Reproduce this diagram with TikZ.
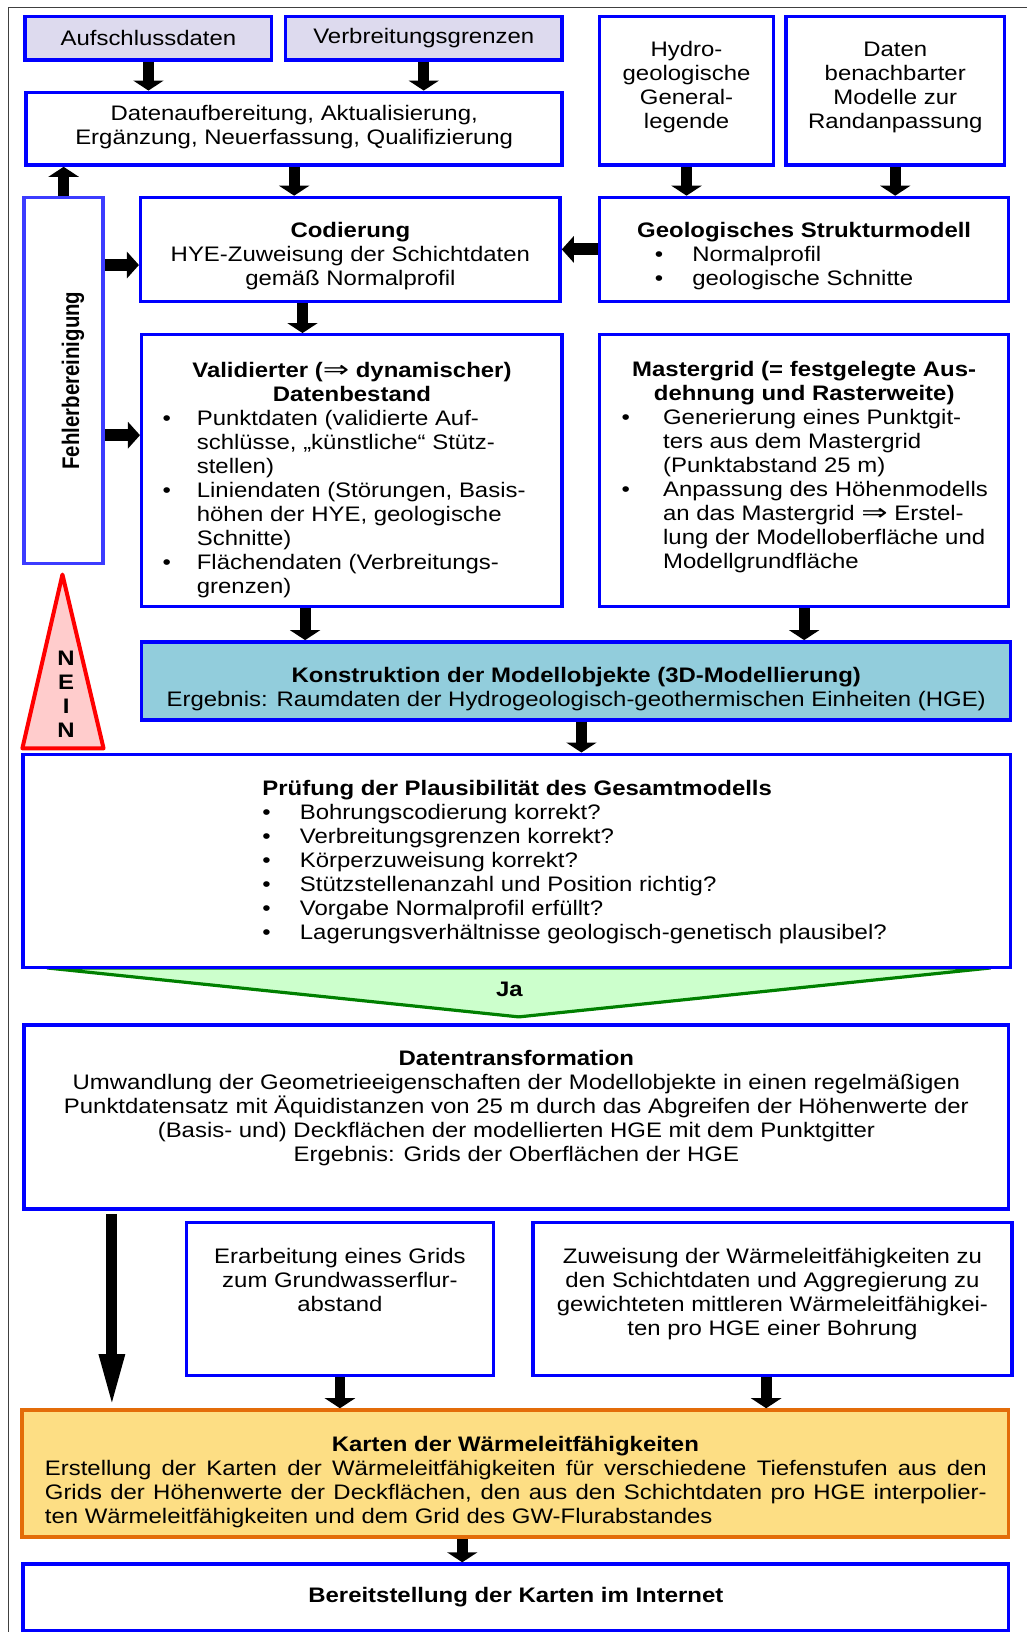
\documentclass[tikz,border=0pt]{standalone}
\usepackage{fontspec}
\setmainfont{Liberation Sans}[FakeStretch=1.14]
\newfontfamily\rotsans{Liberation Sans}[FakeStretch=0.85]
\newfontfamily\symsans{DejaVu Sans}[FakeStretch=1.0]
\usepackage{graphicx}
\usetikzlibrary{arrows.meta,calc}
\newdimen\unitpx \unitpx=0.5204pt
\newcommand\bxt[4]{\parbox[c][#1\unitpx][t]{#2\unitpx}{\vspace*{#3\unitpx}#4}}
\newcommand\bul[3]{\par\noindent\hangindent=#2\unitpx\hangafter=1\hspace*{#1\unitpx}\makebox[\dimexpr#2\unitpx-#1\unitpx\relax][l]{\textbullet}\strut#3\par}
\newcommand\imp{{\symsans\mdseries\scalebox{1.5}[1.1]{⇒}}}
\definecolor{lav}{HTML}{DDDAEE}
\definecolor{kblue}{HTML}{92CDDC}
\definecolor{kfill}{HTML}{FDDE84}
\definecolor{korange}{HTML}{E36C09}
\definecolor{nfill}{HTML}{FFCCCC}
\definecolor{jgreen}{HTML}{008000}
\definecolor{jfill}{HTML}{CCFFCC}
\definecolor{fblue}{HTML}{3C3CFF}
\definecolor{framegray}{HTML}{404040}
\tikzset{
  box/.style={draw=blue, line width=1.7pt, inner sep=0pt, anchor=north west},
  arr/.style={line width=5.4pt, -{Triangle[width=15pt,length=5pt]}},
  harr/.style={line width=6pt, -{Triangle[width=13pt,length=6pt]}},
  longarr/.style={line width=5.4pt, -{Triangle[width=11.5pt,length=27pt]}},
}
\begin{document}
\begin{tikzpicture}[x=0.5204pt, y=-0.5204pt, font=\fontsize{10.5}{12}\selectfont]
\useasboundingbox (0,0) rectangle (987,1568);
\draw[framegray, line width=0.6pt] (8,1568) -- (8,7) -- (987,7);
\begin{scope}[shift={(-1.5,-1)}]
% NEIN triangle
\draw[red, line width=2pt, fill=nfill, line join=round] (61.5,553) -- (101,720) -- (23,720) -- cycle;
\node[font=\fontsize{10.5}{12}\selectfont\bfseries, align=center, inner sep=0pt] (nein) at (65,668) {N\\E\\I\\N};

% Ja chevron
\draw[jgreen, line width=1.6pt, fill=jfill, line join=round] (47,931) -- (953,931) -- (500,978) -- cycle;
\node[font=\fontsize{10.5}{12}\selectfont\bfseries, inner sep=0pt] (ja) at (491,952) {Ja};

% boxes
\node[box, fill=lav, minimum width=237\unitpx, minimum height=42\unitpx] (auf) at (24,15) {Aufschlussdaten};
\node[box, fill=lav, minimum width=266\unitpx, minimum height=42\unitpx] (verb) at (274,15) {Verbreitungsgrenzen};
\node[box, minimum width=167\unitpx, minimum height=143\unitpx] (hydro) at (576,15)
  {\bxt{143}{167}{22.6}{\centering\strut Hydro-\\geologische\\General-\\legende}};
\node[box, minimum width=210\unitpx, minimum height=143\unitpx] (nach) at (755,15)
  {\bxt{143}{210}{22.6}{\centering\strut Daten\\benachbarter\\Modelle zur\\Randanpassung}};
\node[box, minimum width=515\unitpx, minimum height=70\unitpx] (aufb) at (25,88)
  {\bxt{70}{515}{10.6}{\centering\strut Datenaufbereitung, Aktualisierung,\\Ergänzung, Neuerfassung, Qualifizierung}};
\node[box, draw=fblue, minimum width=76\unitpx, minimum height=352\unitpx] (fehler) at (23,189)
  {\makebox[76\unitpx]{\hspace{18\unitpx}\rotatebox{90}{\rotsans\bfseries\fontsize{12}{12}\selectfont Fehlerbereinigung}}};
\node[box, minimum width=403\unitpx, minimum height=100\unitpx] (cod) at (135,189)
  {\bxt{100}{403}{22.6}{\centering\strut\textbf{Codierung}\\HYE-Zuweisung der Schichtdaten\\gemäß Normalprofil}};
\node[box, minimum width=393\unitpx, minimum height=100\unitpx] (geol) at (576,189)
  {\bxt{100}{393}{22.6}{{\centering\strut\textbf{Geologisches Strukturmodell}\par}\bul{53}{89}{Normalprofil}\bul{53}{89}{geologische Schnitte}}};
\node[box, minimum width=404\unitpx, minimum height=261\unitpx] (val) at (136,321)
  {\bxt{261}{404}{24.6}{{\centering\strut\textbf{Validierter (\imp{} dynamischer)}\\\textbf{Datenbestand}\par}%
   \bul{20}{53}{Punktdaten (validierte Auf-\\schlüsse, „künstliche“ Stütz-\\stellen)}%
   \bul{20}{53}{Liniendaten (Störungen, Basis-\\höhen der HYE, geologische\\Schnitte)}%
   \bul{20}{53}{Flächendaten (Verbreitungs-\\grenzen)}}};
\node[box, minimum width=393\unitpx, minimum height=261\unitpx] (mg) at (576,321)
  {\bxt{261}{393}{23.6}{{\centering\strut\textbf{Mastergrid (= festgelegte Aus-}\\\textbf{dehnung und Rasterweite)}\par}%
   \bul{21}{61}{Generierung eines Punktgit-\\ters aus dem Mastergrid\\(Punktabstand 25 m)}%
   \bul{21}{61}{Anpassung des Höhenmodells\\an das Mastergrid \imp{} Erstel-\\lung der Modelloberfläche und\\Modellgrundfläche}}};
\node[box, fill=kblue, minimum width=835\unitpx, minimum height=75\unitpx] (kon) at (136,616)
  {\bxt{75}{835}{22.6}{\centering\strut\textbf{Konstruktion der Modellobjekte (3D-Modellierung)}\\Ergebnis: Raumdaten der Hydrogeologisch-geothermischen Einheiten (HGE)}};
\node[box, minimum width=949\unitpx, minimum height=205\unitpx] (pruef) at (22,724)
  {\bxt{205}{949}{23.6}{{\hspace*{230\unitpx}\strut\textbf{Prüfung der Plausibilität des Gesamtmodells}\par}%
   \bul{230}{266}{Bohrungscodierung korrekt?}%
   \bul{230}{266}{Verbreitungsgrenzen korrekt?}%
   \bul{230}{266}{Körperzuweisung korrekt?}%
   \bul{230}{266}{Stützstellenanzahl und Position richtig?}%
   \bul{230}{266}{Vorgabe Normalprofil erfüllt?}%
   \bul{230}{266}{Lagerungsverhältnisse geologisch-genetisch plausibel?}}};
\node[box, minimum width=946\unitpx, minimum height=177\unitpx] (dtrans) at (23,984)
  {\bxt{177}{946}{22.6}{\centering\strut\textbf{Datentransformation}\\Umwandlung der Geometrieeigenschaften der Modellobjekte in einen regelmäßigen\\Punktdatensatz mit Äquidistanzen von 25 m durch das Abgreifen der Höhenwerte der\\(Basis- und) Deckflächen der modellierten HGE mit dem Punktgitter\\Ergebnis: Grids der Oberflächen der HGE}};
\node[box, minimum width=295\unitpx, minimum height=147\unitpx] (erarb) at (179,1174)
  {\bxt{147}{295}{23.6}{\centering\strut Erarbeitung eines Grids\\zum Grundwasserflur-\\abstand}};
\node[box, minimum width=460\unitpx, minimum height=147\unitpx] (zuw) at (512,1174)
  {\bxt{147}{460}{23.6}{\centering\strut Zuweisung der Wärmeleitfähigkeiten zu\\den Schichtdaten und Aggregierung zu\\gewichteten mittleren Wärmeleitfähigkei-\\ten pro HGE einer Bohrung}};
\node[box, draw=korange, fill=kfill, minimum width=948\unitpx, minimum height=122\unitpx] (karten) at (21,1354)
  {\bxt{122}{948}{23.6}{{\centering\strut\textbf{Karten der Wärmeleitfähigkeiten}\par}%
   \hspace*{22\unitpx}\makebox[905\unitpx][s]{Erstellung der Karten der Wärmeleitfähigkeiten für verschiedene Tiefenstufen aus den}\\
   \hspace*{22\unitpx}\makebox[905\unitpx][s]{Grids der Höhenwerte der Deckflächen, den aus den Schichtdaten pro HGE interpolier-}\\
   \hspace*{22\unitpx}ten Wärmeleitfähigkeiten und dem Grid des GW-Flurabstandes}};
\node[box, minimum width=947\unitpx, minimum height=64\unitpx] (bereit) at (22,1502)
  {\textbf{Bereitstellung der Karten im Internet}};

% connectors
\draw[arr] (auf.south) -- (auf.south |- aufb.north);
\draw[arr] (verb.south) -- (verb.south |- aufb.north);
\draw[arr] (hydro.south) -- (hydro.south |- geol.north);
\draw[arr] (nach.south) -- (nach.south |- geol.north);
\draw[arr] (aufb.south) -- (aufb.south |- cod.north);
\draw[arr] (fehler.north) -- (fehler.north |- aufb.south);
\coordinate (c1) at ($(cod.west)+(0,15)$);
\draw[harr] (fehler.east |- c1) -- (c1);
\draw[harr] (geol.west) -- (geol.west -| cod.east);
\coordinate (c2) at ($(cod.south)+(-46,0)$);
\draw[arr] (c2) -- (c2 |- val.north);
\coordinate (c3) at ($(val.west)+(0,-34)$);
\draw[harr] (fehler.east |- c3) -- (c3);
\coordinate (c4) at ($(val.south)+(-45,0)$);
\draw[arr] (c4) -- (c4 |- kon.north);
\draw[arr] (mg.south) -- (mg.south |- kon.north);
\coordinate (c5) at ($(kon.south)+(5,0)$);
\draw[arr] (c5) -- (c5 |- pruef.north);
\coordinate (c6) at ($(dtrans.south west)+(86,3)$);
\draw[longarr] (c6) -- (c6 |- karten.north);
\draw[arr] (erarb.south) -- (erarb.south |- karten.north);
\coordinate (c7) at ($(zuw.south)+(-6,0)$);
\draw[arr] (c7) -- (c7 |- karten.north);
\coordinate (c8) at ($(karten.south)+(-51,0)$);
\draw[arr] (c8) -- (c8 |- bereit.north);
\end{scope}
\end{tikzpicture}
\end{document}
